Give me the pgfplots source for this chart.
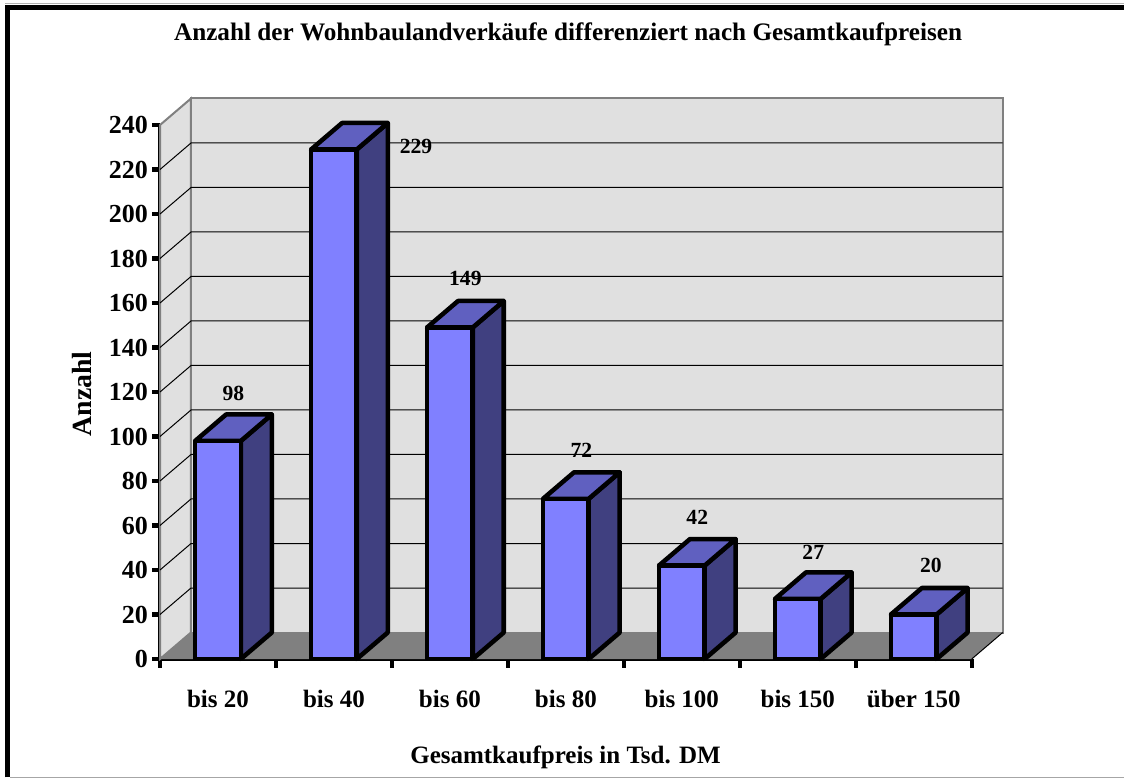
\documentclass[border=0pt]{standalone}
\usepackage{pgfplots}
\usepackage{fontspec}
\setmainfont{Liberation Serif}
\pgfplotsset{compat=1.18}
\definecolor{wall}{HTML}{E0E0E0}
\definecolor{floorc}{HTML}{808080}
\definecolor{frontc}{HTML}{8080FF}
\definecolor{topc}{HTML}{6060C0}
\definecolor{sidec}{HTML}{404080}
\pgfmathsetmacro{\dx}{0.2673}
\pgfmathsetmacro{\dy}{11.91}
\newcommand{\lf}{\fontsize{18.75}{20}\selectfont\bfseries}
\newcommand{\gridl}[1]{%
  \pgfmathsetmacro{\ya}{#1}\pgfmathsetmacro{\yb}{#1+\dy}\pgfmathsetmacro{\xb}{7+\dx}%
  \addplot[black,line width=0.75pt,mark=none,forget plot] coordinates {(0,\ya)(\dx,\yb)(\xb,\yb)};}
\newcommand{\threed}[2]{%
  \pgfmathsetmacro{\xa}{#1-0.197}\pgfmathsetmacro{\xc}{#1+0.197}%
  \pgfmathsetmacro{\xd}{#1+0.197+\dx}\pgfmathsetmacro{\xe}{#1-0.197+\dx}%
  \pgfmathsetmacro{\yt}{#2+\dy}%
  \addplot[fill=sidec,draw=black,line width=3.4pt,line join=round,mark=none,forget plot]
    coordinates {(\xc,0)(\xd,\dy)(\xd,\yt)(\xc,#2)} --cycle;
  \addplot[fill=topc,draw=black,line width=3.4pt,line join=round,mark=none,forget plot]
    coordinates {(\xa,#2)(\xc,#2)(\xd,\yt)(\xe,\yt)} --cycle;}
\pgfplotstableread{
x v
0.5 98
1.5 229
2.5 149
3.5 72
4.5 42
5.5 27
6.5 20
}\bars
\begin{document}
\begin{tikzpicture}
\path[use as bounding box] (0,0) rectangle (843pt,583.5pt);
\draw[black!30,line width=0.75pt] (4pt,581pt) -- (843pt,581pt);
\draw[black,line width=3.75pt] (5.6pt,0.5pt) -- (5.6pt,577.9pt) -- (843pt,577.9pt);
\draw[black!35,line width=0.75pt] (7.5pt,0.4pt) -- (843pt,0.4pt);
\begin{axis}[
  at={(120pt,89.25pt)},anchor=origin,
  scale only axis,width=608.8pt,height=400.5pt,
  xmin=0,xmax=7,ymin=0,ymax=240,clip=false,
  axis x line*=bottom,axis y line*=left,
  axis line style={line width=3.2pt,-},
  xtick={0.5,1.5,2.5,3.5,4.5,5.5,6.5},
  xticklabels={bis 20,bis 40,bis 60,bis 80,bis 100,bis 150,über 150},
  minor xtick={0,1,2,3,4,5,6,7},
  ytick={0,20,...,240},
  major x tick style={draw=none},
  minor x tick style={black,line width=3.2pt},
  minor tick length=6.5pt,
  y tick style={black,line width=3.2pt},
  tick align=outside,
  major tick length=6pt,
  /pgf/number format/assume math mode=true,
  ticklabel style={font=\lf},
  xticklabel style={yshift=-14pt},
  yticklabel style={xshift=0.5pt,font=\fontsize{19.5}{21}\selectfont\bfseries},
  ylabel={Anzahl},xlabel={Gesamtkaufpreis in Tsd. DM},
  title={Anzahl der Wohnbaulandverkäufe differenziert nach Gesamtkaufpreisen},
  y label style={at={(axis description cs:-0.096,0.4962)},anchor=center,font=\fontsize{20.8}{22}\selectfont\bfseries},
  x label style={at={(axis description cs:0.4996,-0.1835)},anchor=center,font=\lf},
  title style={at={(axis description cs:0.5027,1.155)},anchor=center,font=\fontsize{18.9}{20}\selectfont\bfseries},
]
% walls and floor
\addplot[fill=wall,draw=floorc,line width=1.5pt,mark=none,forget plot]
  coordinates {(0.2673,11.91)(7.2673,11.91)(7.2673,251.91)(0.2673,251.91)} --cycle;
\addplot[fill=wall,draw=floorc,line width=1.5pt,mark=none,forget plot]
  coordinates {(0,0)(0.2673,11.91)(0.2673,251.91)(0,240)} --cycle;
\addplot[fill=floorc,draw=none,mark=none,forget plot]
  coordinates {(0,0)(7,0)(7.2673,11.91)(0.2673,11.91)} --cycle;
\addplot[black,line width=0.75pt,mark=none,forget plot] coordinates {(7,0)(7.2673,11.91)};
\gridl{20}\gridl{40}\gridl{60}\gridl{80}\gridl{100}\gridl{120}
\gridl{140}\gridl{160}\gridl{180}\gridl{200}\gridl{220}
% 3D faces
\threed{0.5}{98}\threed{1.5}{229}\threed{2.5}{149}\threed{3.5}{72}
\threed{4.5}{42}\threed{5.5}{27}\threed{6.5}{20}
% front faces with value labels
\addplot[ybar,bar width=34.2pt,fill=frontc,draw=black,line width=3.4pt,line join=round,
  nodes near coords,
  every node near coord/.append style={font=\fontsize{16.2}{17}\selectfont\bfseries,
    anchor=center,xshift=11.6pt,yshift=36.5pt,
    /pgf/number format/assume math mode=true},
  coordinate style/.condition={y==229}{xshift=50pt,yshift=-34.25pt},
  coordinate style/.condition={y==98}{yshift=-1.2pt},
  coordinate style/.condition={y==27}{yshift=-1.2pt},
  coordinate style/.condition={y==20}{xshift=1.2pt},
] table[x=x,y=v] {\bars};
\end{axis}
\end{tikzpicture}
\end{document}
